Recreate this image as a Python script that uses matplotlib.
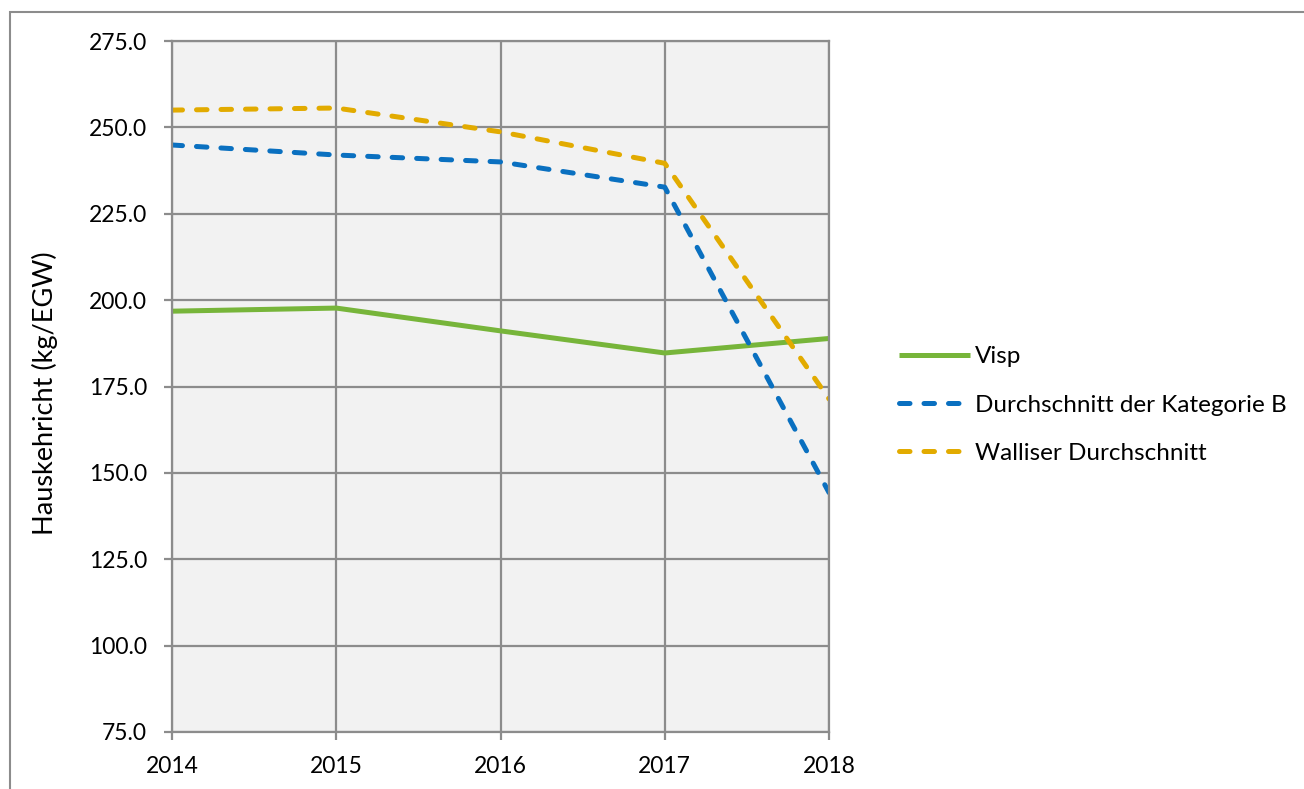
import matplotlib
matplotlib.use('Agg')
import matplotlib.pyplot as plt
from matplotlib.patches import Rectangle

# data
years = [2014, 2015, 2016, 2017, 2018]
visp = [196.8, 197.7, 191.1, 184.7, 188.9]
kat_b = [244.9, 242.0, 240.0, 232.7, 144.3]
wallis = [255.0, 255.6, 248.7, 239.6, 171.4]
yticks = [75.0, 100.0, 125.0, 150.0, 175.0, 200.0, 225.0, 250.0, 275.0]

plt.rcParams['font.family'] = ['Lato', 'DejaVu Sans']

fig = plt.figure(figsize=(13.04, 7.89), dpi=100)
ax = fig.add_axes([172/1304, 1-732/789, (829-172)/1304, (732-41)/789])

# outer chart frame (partly outside picture)
fig.patches.append(Rectangle((10/1304, -0.1), 1.2, (777/789)+0.1, transform=fig.transFigure,
                             fill=False, edgecolor='#8c8c8c', linewidth=1.5))

ax.set_facecolor('#f2f2f2')
grid_c = '#8c8c8c'
ax.grid(True, color=grid_c, linewidth=1.6)
ax.set_axisbelow(True)
for s in ax.spines.values():
    s.set_color(grid_c)
    s.set_linewidth(1.6)

dash = (0, (2.1, 2.8))
ax.plot(years, visp, color='#77b53a', linewidth=3.6, solid_capstyle='butt', label='Visp')
ax.plot(years, kat_b, color='#0a70c0', linewidth=3.6, linestyle=dash,
        dash_capstyle='round', label='Durchschnitt der Kategorie B')
ax.plot(years, wallis, color='#e2ab00', linewidth=3.6, linestyle=dash,
        dash_capstyle='round', label='Walliser Durchschnitt')

ax.set_xlim(2014, 2018)
ax.set_ylim(75, 275)
ax.set_xticks(years)
ax.set_xticklabels([str(y) for y in years])
ax.set_yticks(yticks)
ax.set_yticklabels(['%.1f' % v for v in yticks])
ax.tick_params(axis='both', labelsize=16.5, color=grid_c, width=1.6, length=6)
ax.tick_params(axis='y', pad=12)
ax.tick_params(axis='x', pad=11)
ax.set_ylabel('Hauskehricht (kg/EGW)', fontsize=19.5)
ax.yaxis.set_label_coords(-0.1735, 0.49)

ax.legend(loc='center left', bbox_to_anchor=(1.074, 0.473), frameon=False, fontsize=17.5,
          handlelength=2.9, labelspacing=1.12, handletextpad=0.2)

fig.savefig('out.png', dpi=100)
